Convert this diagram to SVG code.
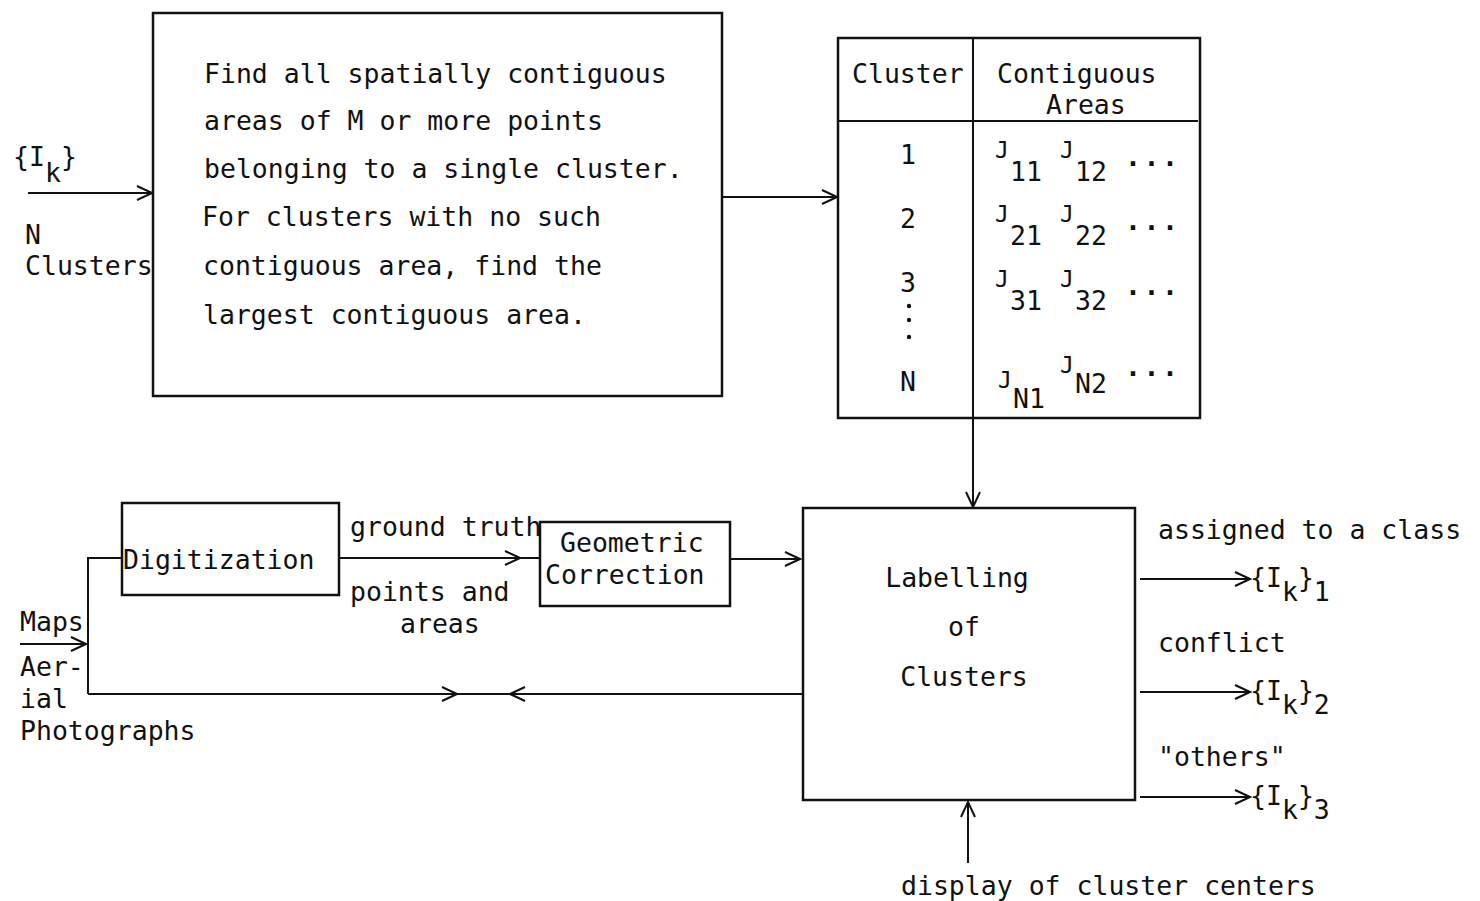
<svg xmlns="http://www.w3.org/2000/svg" width="1480" height="901" viewBox="0 0 1480 901">
<style>
text{font-family:"DejaVu Sans Mono","Liberation Mono",monospace;font-size:26.5px;fill:#111}
.box{fill:none;stroke:#111;stroke-width:2.5}
.ln{fill:none;stroke:#111;stroke-width:2}
.j{font-size:23px}
.dots{font-weight:bold;letter-spacing:2.5px}
</style>
<defs>
<marker id="ah" viewBox="-17 -10 19 20" markerWidth="19" markerHeight="20" refX="0" refY="0" orient="auto" markerUnits="userSpaceOnUse">
<path d="M-15,-7 L0,0 L-15,7" fill="none" stroke="#111" stroke-width="2"/>
</marker>
</defs>
<rect width="1480" height="901" fill="#fff"/>

<g id="connectors">
<line class="ln" x1="28" y1="193" x2="152" y2="193" marker-end="url(#ah)"/>
<line class="ln" x1="722" y1="197" x2="837" y2="197" marker-end="url(#ah)"/>
<line class="ln" x1="973" y1="418" x2="973" y2="507" marker-end="url(#ah)"/>
<line class="ln" x1="20" y1="644" x2="86" y2="644" marker-end="url(#ah)"/>
<polyline class="ln" points="122,558 88,558 88,694"/>
<line class="ln" x1="88" y1="694" x2="457" y2="694" marker-end="url(#ah)"/>
<line class="ln" x1="457" y1="694" x2="510" y2="694"/>
<line class="ln" x1="803" y1="694" x2="510" y2="694" marker-end="url(#ah)"/>
<line class="ln" x1="340" y1="558" x2="520" y2="558" marker-end="url(#ah)"/>
<line class="ln" x1="520" y1="558" x2="540" y2="558"/>
<line class="ln" x1="730" y1="559" x2="800" y2="559" marker-end="url(#ah)"/>
<line class="ln" x1="1140" y1="579" x2="1250" y2="579" marker-end="url(#ah)"/>
<line class="ln" x1="1140" y1="692" x2="1250" y2="692" marker-end="url(#ah)"/>
<line class="ln" x1="1140" y1="797" x2="1250" y2="797" marker-end="url(#ah)"/>
<line class="ln" x1="968" y1="863" x2="968" y2="802" marker-end="url(#ah)"/>
</g>

<g id="input-labels">
<text x="13" y="166">{I<tspan dy="16">k</tspan><tspan dy="-16">}</tspan></text>
<text x="25" y="244">N</text>
<text x="25" y="275">Clusters</text>
</g>

<g id="find-areas">
<rect class="box" x="153" y="13" width="569" height="383"/>
<text x="204" y="83">Find all spatially contiguous</text>
<text x="204" y="130">areas of M or more points</text>
<text x="204" y="178">belonging to a single cluster.</text>
<text x="202" y="226">For clusters with no such</text>
<text x="203" y="275">contiguous area, find the</text>
<text x="203" y="324">largest contiguous area.</text>
</g>

<g id="table">
<rect class="box" x="838" y="38" width="362" height="380"/>
<line class="ln" x1="838" y1="121" x2="1198" y2="121"/>
<line class="ln" x1="973" y1="38" x2="973" y2="418"/>
<text x="852" y="83">Cluster</text>
<text x="997" y="83">Contiguous</text>
<text x="1046" y="114">Areas</text>
<text x="900" y="164">1</text>
<text x="900" y="228">2</text>
<text x="900" y="292">3</text>
<circle cx="909" cy="306" r="2.2" fill="#111"/>
<circle cx="909" cy="320" r="2.2" fill="#111"/>
<circle cx="909" cy="337" r="2.2" fill="#111"/>
<text x="900" y="391">N</text>
<text x="995" y="158" class="j">J</text><text x="1010" y="181">11</text>
<text x="1060" y="158" class="j">J</text><text x="1075" y="181">12</text>
<text x="1125" y="166" class="dots">...</text>
<text x="995" y="222" class="j">J</text><text x="1010" y="245">21</text>
<text x="1060" y="222" class="j">J</text><text x="1075" y="245">22</text>
<text x="1125" y="230" class="dots">...</text>
<text x="995" y="287" class="j">J</text><text x="1010" y="310">31</text>
<text x="1060" y="287" class="j">J</text><text x="1075" y="310">32</text>
<text x="1125" y="295" class="dots">...</text>
<text x="998" y="388" class="j">J</text><text x="1013" y="408">N1</text>
<text x="1060" y="373" class="j">J</text><text x="1075" y="393">N2</text>
<text x="1125" y="376" class="dots">...</text>
</g>

<g id="labelling">
<rect class="box" x="803" y="508" width="332" height="292"/>
<text x="957" y="587" text-anchor="middle">Labelling</text>
<text x="964" y="636" text-anchor="middle">of</text>
<text x="964" y="686" text-anchor="middle">Clusters</text>
</g>

<g id="outputs">
<text x="1158" y="539">assigned to a class</text>
<text x="1250" y="587">{I<tspan dy="14">k</tspan><tspan dy="-14">}</tspan><tspan dy="14">1</tspan></text>
<text x="1158" y="652">conflict</text>
<text x="1250" y="700">{I<tspan dy="14">k</tspan><tspan dy="-14">}</tspan><tspan dy="14">2</tspan></text>
<text x="1158" y="766">"others"</text>
<text x="1250" y="805">{I<tspan dy="14">k</tspan><tspan dy="-14">}</tspan><tspan dy="14">3</tspan></text>
<text x="901" y="895">display of cluster centers</text>
</g>

<g id="digitization">
<rect class="box" x="122" y="503" width="217" height="92"/>
<text x="123" y="569">Digitization</text>
</g>

<g id="ground-truth-labels">
<text x="350" y="536">ground truth</text>
<text x="350" y="601">points and</text>
<text x="400" y="633">areas</text>
</g>

<g id="geometric">
<rect class="box" x="540" y="522" width="190" height="84"/>
<text x="560" y="552">Geometric</text>
<text x="545" y="584">Correction</text>
</g>

<g id="map-labels">
<text x="20" y="631">Maps</text>
<text x="20" y="676">Aer-</text>
<text x="20" y="708">ial</text>
<text x="20" y="740">Photographs</text>
</g>
</svg>
